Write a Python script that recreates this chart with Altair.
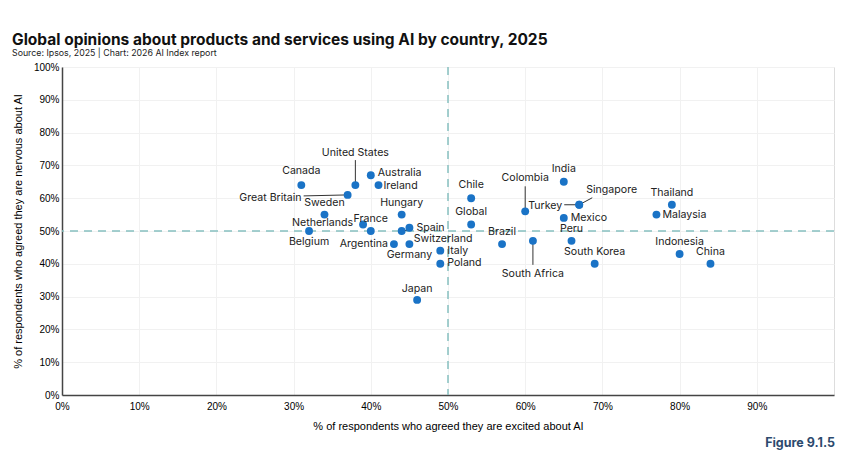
import altair as alt
import pandas as pd

# Survey results per country (share of respondents, %)
countries = [
    "Canada", "United States", "Australia", "Ireland", "Great Britain", "Sweden",
    "Netherlands", "France", "Belgium", "Argentina", "Hungary", "Spain",
    "Switzerland", "Germany", "Italy", "Poland", "Japan", "Chile", "Global",
    "Colombia", "India", "Turkey", "Singapore", "Mexico", "Peru", "Brazil",
    "South Africa", "South Korea", "Thailand", "Malaysia", "Indonesia", "China",
]
excited = [31, 38, 40, 41, 37, 34, 39, 40, 32, 43, 44, 45, 44, 45, 49, 49, 46,
           53, 53, 60, 65, 67, 67, 65, 66, 57, 61, 69, 79, 77, 80, 84]
nervous = [64, 64, 67, 64, 61, 55, 52, 50, 50, 46, 55, 51, 50, 46, 44, 40, 29,
           60, 52, 56, 65, 58, 58, 54, 47, 46, 47, 40, 58, 55, 43, 40]

x_ticks = [0, 10, 20, 30, 40, 50, 60, 70, 80, 90]
y_ticks = [0, 10, 20, 30, 40, 50, 60, 70, 80, 90, 100]
threshold = 50

# Plot-area size in pixels
W, H = 772, 328
PX_X, PX_Y = W / 100, H / 100

# Label placement: (dx px, dy px, align, leader end dx, leader end dy)
placement = {
    "Canada": (0, -14, "center", None, None),
    "United States": (0, -32, "center", 0, -25),
    "Australia": (7, -2, "left", None, None),
    "Ireland": (5, 1, "left", None, None),
    "Great Britain": (-46, 3, "right", -44, 1),
    "Sweden": (0, -12, "center", None, None),
    "Netherlands": (-10, -1, "right", None, None),
    "France": (0, -12, "center", None, None),
    "Belgium": (0, 11, "center", None, None),
    "Argentina": (-6, 0, "right", None, None),
    "Hungary": (0, -12, "center", None, None),
    "Spain": (7, 0, "left", None, None),
    "Switzerland": (12, 8, "left", 7, -1),
    "Germany": (0, 11, "center", None, None),
    "Italy": (7, 0, "left", None, None),
    "Poland": (7, -1, "left", None, None),
    "Japan": (0, -11, "center", None, None),
    "Chile": (0, -13, "center", None, None),
    "Global": (0, -12, "center", None, None),
    "Colombia": (0, -33, "center", 0, -25),
    "India": (0, -13, "center", None, None),
    "Turkey": (-17, 1, "right", -15, 0),
    "Singapore": (7, -15, "left", 13, -7),
    "Mexico": (7, 0, "left", None, None),
    "Peru": (0, -12, "center", None, None),
    "Brazil": (0, -12, "center", None, None),
    "South Africa": (0, 33, "center", 0, 24),
    "South Korea": (0, -12, "center", None, None),
    "Thailand": (0, -12, "center", None, None),
    "Malaysia": (6, 0, "left", None, None),
    "Indonesia": (0, -12, "center", None, None),
    "China": (0, -12, "center", None, None),
}

rows = []
for c, ex, nv in zip(countries, excited, nervous):
    dx, dy, al, ldx, ldy = placement[c]
    row = {
        "country": c, "excited": ex, "nervous": nv,
        "lx": ex + dx / PX_X, "ly": nv - dy / PX_Y, "align": al,
        "has_leader": ldx is not None,
        "ex2": ex + (ldx or 0) / PX_X, "nv2": nv - (ldy or 0) / PX_Y,
    }
    rows.append(row)
df = pd.DataFrame(rows)

FONT = "Inter"
BLUE = "#1a73c6"
TEAL = "#86c0c0"

x_scale = alt.Scale(domain=[0, 100], nice=False)
y_scale = alt.Scale(domain=[0, 100], nice=False)

x_axis = alt.Axis(
    values=x_ticks, labelExpr="datum.value + '%'",
    title="% of respondents who agreed they are excited about AI",
    grid=True, gridColor="#f1f1f1", ticks=False, domainColor="#444",
    domainWidth=1.5, labelPadding=6, titlePadding=9,
    labelFlush=False, labelOverlap=False, titleFontWeight="normal",
)
y_axis = alt.Axis(
    values=y_ticks, labelExpr="datum.value + '%'",
    title="% of respondents who agreed they are nervous about AI",
    grid=True, gridColor="#f1f1f1", ticks=False, domainColor="#444",
    domainWidth=1.5, labelPadding=3, titlePadding=10,
    labelFlush=False, labelOverlap=False, titleFontWeight="normal",
)


def xq(field):
    return alt.X(f"{field}:Q", scale=x_scale, axis=x_axis)


def yq(field):
    return alt.Y(f"{field}:Q", scale=y_scale, axis=y_axis)


base = alt.Chart(df)

points = base.mark_circle(size=62, color=BLUE, opacity=1).encode(
    x=xq("excited"), y=yq("nervous"),
    tooltip=["country", "excited", "nervous"],
)

ref_df = pd.DataFrame({"v": [threshold]})
vrule = alt.Chart(ref_df).mark_rule(
    color=TEAL, strokeDash=[8, 6], strokeWidth=1.5
).encode(x=xq("v"))
hrule = alt.Chart(ref_df).mark_rule(
    color=TEAL, strokeDash=[8, 6], strokeWidth=1.5
).encode(y=yq("v"))

leaders = base.transform_filter("datum.has_leader").mark_rule(
    color="#333", strokeWidth=1
).encode(x=xq("excited"), y=yq("nervous"), x2="ex2:Q", y2="nv2:Q")


def label_layer(al):
    return base.transform_filter(f"datum.align == '{al}'").mark_text(
        align=al, baseline="middle", font=FONT, fontSize=10.6, color="#222"
    ).encode(x=xq("lx"), y=yq("ly"), text="country:N")


figure_note = alt.Chart(ref_df).mark_text(
    align="right", baseline="middle", font=FONT, fontSize=12.5,
    fontWeight="bold", color="#2c4a6e",
).encode(x=alt.value(W + 1), y=alt.value(376), text=alt.value("Figure 9.1.5"))

chart = alt.layer(
    hrule, vrule, leaders, points,
    label_layer("left"), label_layer("right"), label_layer("center"),
    figure_note,
).properties(
    width=W, height=H,
    autosize=alt.AutoSizeParams(type="none"),
    padding={"left": 62, "top": 67, "right": 16, "bottom": 69},
    title=alt.TitleParams(
        text="Global opinions about products and services using AI by country, 2025",
        subtitle="Source: Ipsos, 2025 | Chart: 2026 AI Index report",
        anchor="start", frame="group", dx=-50, offset=4,
        font=FONT, fontSize=15.5, fontWeight="bold", color="#111",
        subtitleFont=FONT, subtitleFontSize=8.8, subtitleColor="#222",
        subtitlePadding=1,
    ),
).configure_view(stroke=None).configure_axis(
    labelFont=FONT, labelFontSize=9.8, labelColor="#333",
    titleFont=FONT, titleFontSize=10, titleColor="#222",
).configure(background="white")

chart.save("out.html", embed_options={"renderer": "svg", "actions": False})
